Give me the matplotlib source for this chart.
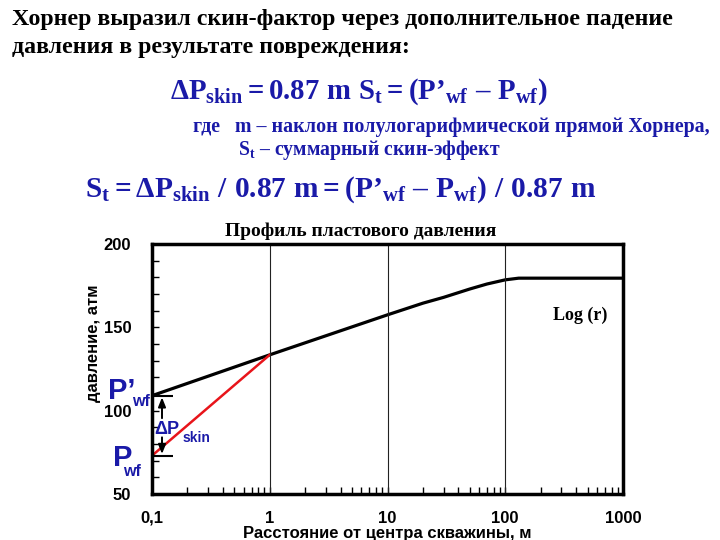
import matplotlib
matplotlib.use('Agg')
import matplotlib.pyplot as plt
import matplotlib.transforms as mtransforms
from matplotlib.ticker import FixedLocator, LogLocator, NullFormatter

# pressure profile (log r)
r_profile = [0.1, 1, 10, 20, 30, 50, 70, 100, 130, 1000]
p_profile = [109, 133.5, 157.5, 164.5, 168, 173, 176, 178.5, 179.5, 179.5]
# damaged zone line
r_skin = [0.1, 1]
p_skin = [73, 133.5]
p_wf_prime = 109
p_wf = 73

x_ticks = [0.1, 1, 10, 100, 1000]
x_labels = ['0,1', '1', '10', '100', '1000']
y_ticks = [50, 100, 150, 200]

blue = '#1a1aa8'
serif = ['Liberation Serif', 'DejaVu Serif']
sans = ['Liberation Sans', 'DejaVu Sans']

plt.rcParams['mathtext.fontset'] = 'custom'
plt.rcParams['mathtext.rm'] = 'Liberation Serif:bold'
plt.rcParams['mathtext.it'] = 'Liberation Serif:bold'
plt.rcParams['mathtext.bf'] = 'Liberation Serif:bold'
plt.rcParams['mathtext.default'] = 'rm'

fig = plt.figure(figsize=(7.2, 5.4), dpi=100)

# header text
fig.text(12/720, 1-20/540, 'Хорнер выразил скин-фактор через дополнительное падение',
         family=serif, weight='bold', fontsize=17.2, va='center', ha='left')
fig.text(12/720, 1-48/540, 'давления в результате повреждения:',
         family=serif, weight='bold', fontsize=17.2, va='center', ha='left')
fig.text(170/720, 1-92/540,
         r'$\Delta\mathrm{P}_{skin}=0.87\ m\ S_{t}=(P’_{wf}\ –\ P_{wf})$',
         color=blue, fontsize=20.7, va='center', ha='left')
fig.text(193/720, 1-127/540, 'где   m – наклон полулогарифмической прямой Хорнера,',
         family=serif, weight='bold', color=blue, fontsize=14.4, va='center', ha='left')
fig.text(238/720, 1-150/540, r'S$_t$ – суммарный скин-эффект',
         family=serif, weight='bold', color=blue, fontsize=14.2, va='center', ha='left')
fig.text(85/720, 1-190/540,
         r'$S_{t}=\Delta\mathrm{P}_{skin}\ /\ 0.87\ m=(P’_{wf}\ –\ P_{wf})\ /\ 0.87\ m$',
         color=blue, fontsize=21.2, va='center', ha='left')
fig.text(361/720, 1-231/540, 'Профиль пластового давления',
         family=serif, weight='bold', fontsize=14, va='center', ha='center')

ax = fig.add_axes([152/720, 46/540, 471/720, 250/540])
ax.plot(r_profile, p_profile, color='black', lw=2.3, solid_capstyle='butt', clip_on=False)
ax.plot(r_skin, p_skin, color='#e8141a', lw=1.8)
ax.set_xscale('log')
ax.set_xlim(0.1, 1000)
ax.set_ylim(50, 200)

for xv in [1, 10, 100]:
    ax.axvline(xv, color='#222222', lw=0.8)

ax.xaxis.set_major_locator(FixedLocator(x_ticks))
ax.set_xticklabels(x_labels)
ax.xaxis.set_minor_locator(LogLocator(base=10, subs=range(2, 10)))
ax.xaxis.set_minor_formatter(NullFormatter())
ax.yaxis.set_major_locator(FixedLocator(y_ticks))
ax.yaxis.set_minor_locator(FixedLocator(range(50, 201, 10)))
ax.tick_params(which='both', direction='in', length=5, width=1, top=False, right=False)
ax.tick_params(axis='x', which='major', pad=12)
ax.tick_params(axis='y', which='major', pad=15)
for lab in ax.get_xticklabels() + ax.get_yticklabels():
    lab.set_fontfamily(sans)
    lab.set_fontweight('bold')
    lab.set_fontsize(12)
for s in ax.spines.values():
    s.set_linewidth(2.5)

ax.set_xlabel('Расстояние от центра скважины, м', family=sans, weight='bold',
              fontsize=12, labelpad=0)
ax.set_ylabel('давление, атм', family=sans, weight='bold', fontsize=12)
ax.yaxis.set_label_coords(-0.108, 0.604)

tr = mtransforms.blended_transform_factory(ax.transAxes, ax.transData)
ax.text(0.909, 157.4, 'Log (r)', transform=tr,
        family=serif, weight='bold', fontsize=13, ha='center', va='center')

# skin pressure drop marker
ax.hlines([p_wf_prime, p_wf], 0.1, 0.15, color='black', lw=1.5, clip_on=False)
arrow = dict(arrowstyle='-|>,head_length=0.55,head_width=0.22', color='black', lw=1.4,
             mutation_scale=10, shrinkA=0, shrinkB=0)
ax.annotate('', xy=(0.1216, p_wf_prime - 1), xytext=(0.1216, 95.5), arrowprops=arrow)
ax.annotate('', xy=(0.1216, p_wf + 1), xytext=(0.1216, 84), arrowprops=arrow)
ax.text(0.105, 89, 'ΔP', family=sans, weight='bold', color=blue, fontsize=13, ha='left', va='center')
ax.text(0.18, 83.5, 'skin', family=sans, weight='bold', color=blue, fontsize=10, ha='left', va='center')

ax.text(-0.094, 112, 'P’', transform=tr, family=sans, weight='bold', color=blue,
        fontsize=21, ha='left', va='center', clip_on=False)
ax.text(-0.042, 105.5, 'wf', transform=tr, family=sans, weight='bold', color=blue,
        fontsize=11.5, ha='left', va='center', clip_on=False)
ax.text(-0.083, 71.5, 'P', transform=tr, family=sans, weight='bold', color=blue,
        fontsize=21, ha='left', va='center', clip_on=False)
ax.text(-0.062, 63.5, 'wf', transform=tr, family=sans, weight='bold', color=blue,
        fontsize=11.5, ha='left', va='center', clip_on=False)

fig.savefig('out.png', dpi=100)
